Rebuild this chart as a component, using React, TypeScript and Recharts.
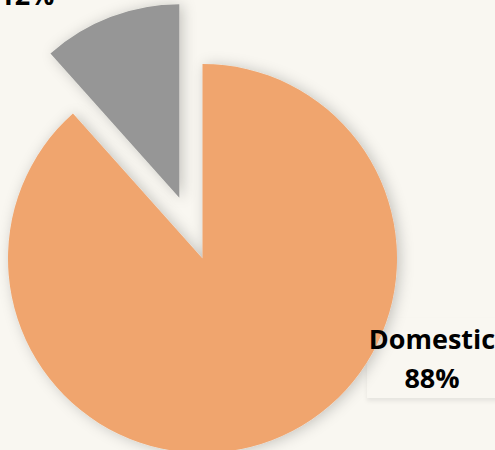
import React from 'react';
import { PieChart, Pie, Cell } from 'recharts';

const categories = ['Domestic', 'Other'];
const values = [88.4, 11.6];
const colors = ['#F0A56E', '#969696'];

const data = categories.map((name, i) => ({ name, value: values[i] }));
const total = values.reduce((a, b) => a + b, 0);

const W = 495;
const H = 450;
const CX = 202.5;
const CY = 258.5;
const R = 194.5;
const EXPLODE = 65;
const START = 90;
const END = -270;

// mid-angle of the exploded (second) slice
const otherMid = START - (360 * (values[0] + values[1] / 2)) / total;
const rad = (otherMid * Math.PI) / 180;
const OX = CX + EXPLODE * Math.cos(rad);
const OY = CY - EXPLODE * Math.sin(rad);

const FONT = '"Open Sans", sans-serif';

const makeLabel = (show: number, dx: number, dy: number) => (props: any) => {
  const { cx, cy, index, name, percent } = props;
  if (index !== show) return null;
  const x = cx + dx;
  const y = cy + dy;
  return (
    <g key={`lbl-${index}`}>
      <text x={x} y={y} textAnchor="middle" fontFamily={FONT} fontWeight={700} fontSize={27} fill="#000">
        <tspan x={x} dy={0}>{name}</tspan>
        <tspan x={x} dy={39}>{`${Math.round(percent * 100)}%`}</tspan>
      </text>
    </g>
  );
};

export default function App() {
  return (
    <div style={{ position: 'fixed', left: 0, top: 0, width: W, height: H, background: '#F9F7F1', overflow: 'hidden' }}>
      <PieChart width={W} height={H} margin={{ top: 0, right: 0, bottom: 0, left: 0 }}>
        <defs>
          <filter id="pieShadow" x="-20%" y="-20%" width="140%" height="140%">
            <feDropShadow dx="3" dy="1" stdDeviation="7" floodColor="#000" floodOpacity="0.22" />
          </filter>
          <filter id="boxShadow" x="-10%" y="-20%" width="120%" height="150%">
            <feDropShadow dx="0" dy="3" stdDeviation="2" floodColor="#000" floodOpacity="0.08" />
          </filter>
        </defs>
        <rect x={367} y={318} width={140} height={80} fill="#F9F7F1" filter="url(#boxShadow)" />
        <Pie
          data={data}
          dataKey="value"
          nameKey="name"
          cx={CX}
          cy={CY}
          outerRadius={R}
          startAngle={START}
          endAngle={END}
          stroke="none"
          isAnimationActive={false}
          labelLine={false}
          label={makeLabel(0, 229.5, 90)}
        >
          {data.map((d, i) => (
            <Cell key={d.name} fill={i === 0 ? colors[0] : 'none'} filter={i === 0 ? 'url(#pieShadow)' : undefined} />
          ))}
        </Pie>
        <Pie
          data={data}
          dataKey="value"
          nameKey="name"
          cx={OX}
          cy={OY}
          outerRadius={R - 1}
          startAngle={START}
          endAngle={END}
          stroke="none"
          isAnimationActive={false}
          labelLine={false}
          label={makeLabel(1, -152.5, -232)}
        >
          {data.map((d, i) => (
            <Cell key={d.name} fill={i === 1 ? colors[1] : 'none'} filter={i === 1 ? 'url(#pieShadow)' : undefined} />
          ))}
        </Pie>
      </PieChart>
    </div>
  );
}
